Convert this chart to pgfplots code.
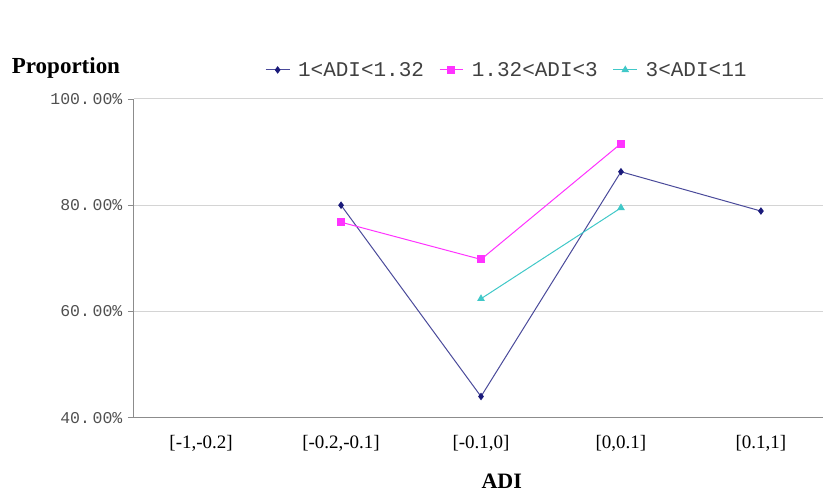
\documentclass[border=0pt]{standalone}
\usepackage{pgfplots}
\pgfplotsset{compat=1.18}
\usepackage{fontspec}
\setmainfont{Liberation Serif}
\newfontfamily\monofont{Liberation Mono}
\definecolor{navyc}{HTML}{1A1A7A}
\definecolor{navyl}{HTML}{4A4A9A}
\definecolor{pinkc}{HTML}{FF33FF}
\definecolor{cyanc}{HTML}{40C8C8}
\definecolor{gridc}{HTML}{D4D4D4}
\definecolor{axc}{HTML}{8C8C8C}
\definecolor{tickc}{HTML}{505050}
\begin{document}
\begin{tikzpicture}
\begin{axis}[
  scale only axis,
  width=689pt, height=319pt,
  xmin=-0.48, xmax=4.44,
  ymin=40, ymax=100,
  axis x line=bottom, axis y line=left,
  axis line style={draw=axc, line width=0.9pt, -},
  xtick={0,1,2,3,4},
  xticklabels={{[-1,-0.2]},{[-0.2,-0.1]},{[-0.1,0]},{[0,0.1]},{[0.1,1]}},
  major x tick style={draw=none},
  xticklabel style={font=\fontsize{19}{22}\selectfont, text=black, yshift=-8pt},
  ytick={40,60,80,100},
  yticklabels={{40.\,00\%},{60.\,00\%},{80.\,00\%},{100.\,00\%}},
  yticklabel style={font=\monofont\fontsize{16.5}{19}\selectfont, text=tickc, xshift=-2pt},
  /pgf/number format/assume math mode=true,
  y tick style={draw=axc, line width=0.8pt},
  tick align=outside,
  major tick length=6pt,
  ymajorgrids,
  grid style={draw=gridc, line width=1pt},
  clip=false,
  legend columns=3,
  legend style={at={(0.186,1.091)}, anchor=west, draw=none, fill=none,
    font=\monofont\fontsize{21}{25}\selectfont, text=tickc!80!black,
    /tikz/every odd column/.append style={column sep=6pt},
    /tikz/every even column/.append style={column sep=13pt}},
  legend image code/.code={
    \draw[#1,mark repeat=2,mark phase=2] plot coordinates {(0cm,0cm) (0.42cm,0cm) (0.84cm,0cm)};},
]
\addplot[color=navyl, line width=1pt, mark=diamond*, mark size=3pt,
  mark options={fill=navyc, draw=navyc}]
  coordinates {(1,80.0) (2,44.0) (3,86.3) (4,78.9)};
\addlegendentry{1<ADI<1.32}
\addplot[color=pinkc, line width=1pt, mark=square*, mark size=3.5pt,
  mark options={fill=pinkc, draw=pinkc}]
  coordinates {(1,76.8) (2,69.8) (3,91.6)};
\addlegendentry{1.32<ADI<3}
\addplot[color=cyanc, line width=1pt, mark=triangle*, mark size=3.5pt,
  mark options={fill=cyanc, draw=cyanc}]
  coordinates {(2,62.4) (3,79.5)};
\addlegendentry{3<ADI<11}
\node[font=\bfseries\fontsize{23}{26}\selectfont, anchor=center] at ([xshift=-68pt,yshift=350pt]rel axis cs:0,0) {Proportion};
\node[font=\bfseries\fontsize{22}{25}\selectfont, anchor=center] at ([xshift=368pt,yshift=-64pt]rel axis cs:0,0) {ADI};
\end{axis}
\path[use as bounding box] ([xshift=-134pt,yshift=-75pt]current axis.south west) rectangle ([yshift=99pt]current axis.north east);
\end{tikzpicture}
\end{document}
